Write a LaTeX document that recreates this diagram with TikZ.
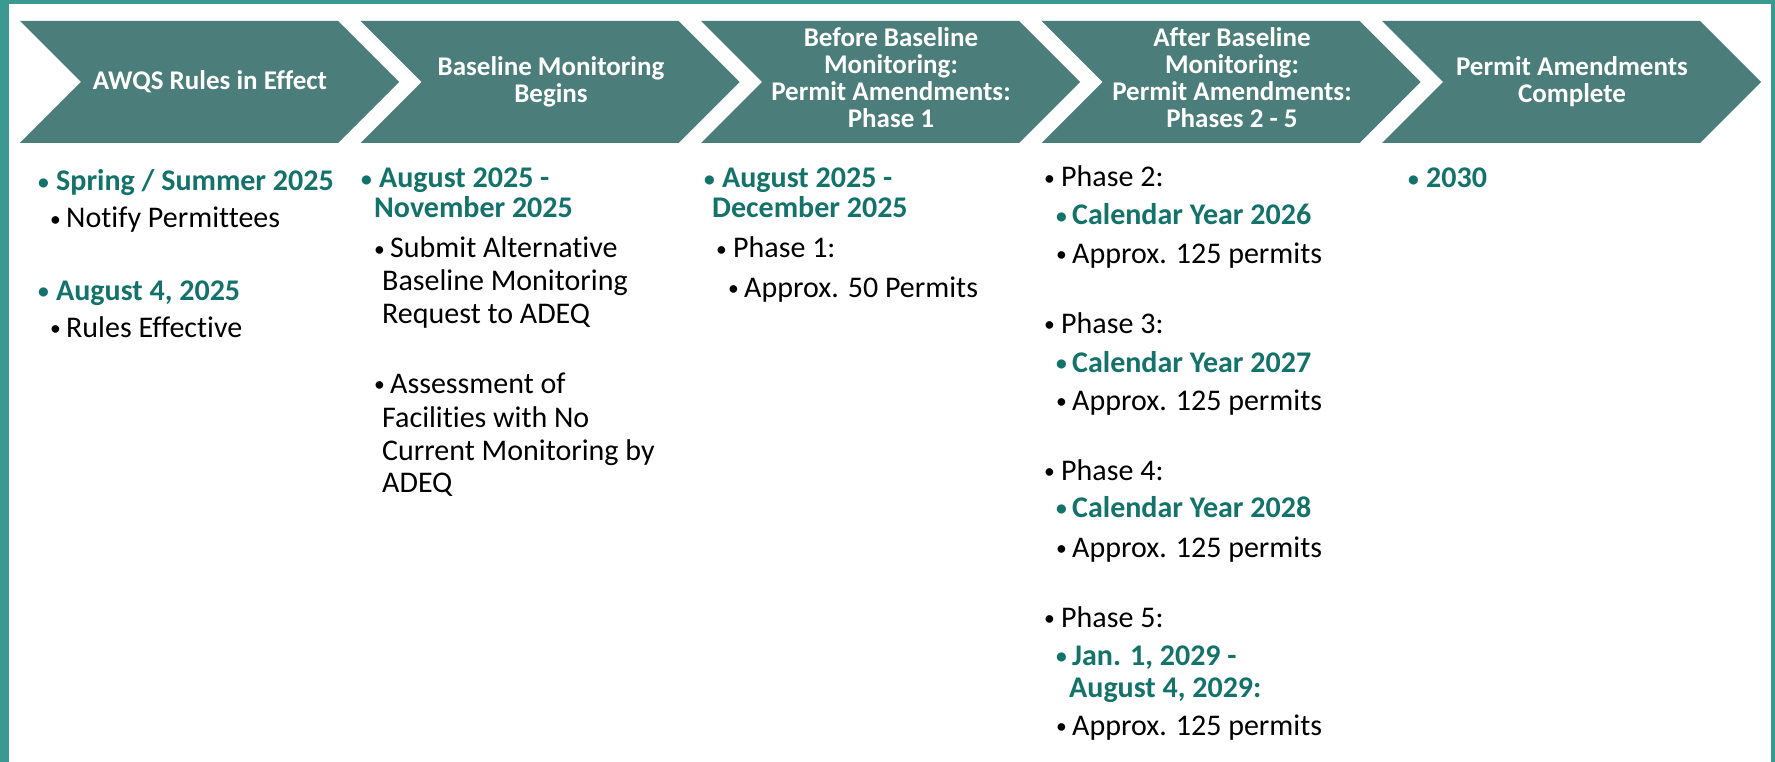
\documentclass[tikz,border=0pt]{standalone}
\usepackage{fontspec}
\setmainfont{Carlito}[Ligatures=NoCommon]
\definecolor{frameteal}{HTML}{3A9A91}
\definecolor{chevfill}{HTML}{4B7D7A}
\definecolor{dateteal}{HTML}{13726A}
\newcommand\mybul[1]{\makebox[#1pt][l]{\raisebox{0.06em}{\scalebox{0.72}{\textbullet}}}}
\tikzset{
  chev/.style={fill=chevfill},
  hdr/.style={text=white, font=\fontsize{27}{27}\selectfont\bfseries, align=center, inner sep=0pt},
  dt/.style={anchor=base west, text=dateteal, font=\fontsize{30}{33}\selectfont\bfseries, inner sep=0pt},
  tx/.style={anchor=base west, text=black, font=\fontsize{30}{33}\selectfont, inner sep=0pt}
}
\begin{document}
\begin{tikzpicture}[x=1pt,y=-1pt]
\useasboundingbox (0,0) rectangle (1775,762);
\fill[white] (0,0) rectangle (1775,762);
\fill[frameteal] (0,0) rectangle (1775,4);
\fill[frameteal] (0,0) rectangle (9,762);
\fill[frameteal] (1771,0) rectangle (1775,762);
% chevrons
\foreach \i in {0,...,4}{
  \pgfmathsetmacro\L{20+340.5*\i}
  \fill[chev] (\L,21) -- (\L+318,21) -- (\L+379,82) -- (\L+318,143) -- (\L,143) -- (\L+61,82) -- cycle;
}
% headers
\node[hdr] (h1) at (210,82) {AWQS Rules in Effect};
\node[hdr] (h2) at (551,82) {Baseline Monitoring\\Begins};
\node[hdr] (h3) at (891,78) {Before Baseline\\Monitoring:\\Permit Amendments:\\Phase 1};
\node[hdr] (h4) at (1232,78) {After Baseline\\Monitoring:\\Permit Amendments:\\Phases 2 - 5};
\node[hdr] (h5) at (1572,82) {Permit Amendments\\Complete};
% column 1
\node[dt] (c1a) at (38,191) {\mybul{18}Spring / Summer 2025};
\node[tx] (c1b) at (50,228) {\mybul{16}Notify Permittees};
\node[dt] (c1c) at (38,300) {\mybul{18}August 4, 2025};
\node[tx] (c1d) at (50,337) {\mybul{16}Rules Effective};
% column 2
\node[dt] (c2a) at (361,188) {\mybul{18}August 2025 -};
\node[dt] (c2b) at (374,218) {November 2025};
\node[tx] (c2c) at (374,258) {\mybul{16}Submit Alternative};
\node[tx] (c2d) at (382,290) {Baseline Monitoring};
\node[tx] (c2e) at (382,323) {Request to ADEQ};
\node[tx] (c2f) at (374,393) {\mybul{16}Assessment of};
\node[tx] (c2g) at (382,427) {Facilities with No};
\node[tx] (c2h) at (382,460) {Current Monitoring by};
\node[tx] (c2i) at (382,492) {ADEQ};
% column 3
\node[dt] (c3a) at (704,188) {\mybul{18}August 2025 -};
\node[dt] (c3b) at (712,218) {December 2025};
\node[tx] (c3c) at (716,258) {\mybul{17}Phase 1:};
\node[tx] (c3d) at (728,297) {\mybul{16}Approx. 50 Permits};
% column 4
\node[tx] (c4a) at (1044,187) {\mybul{17}Phase 2:};
\node[dt] (c4b) at (1056,225) {\mybul{16}Calendar Year 2026};
\node[tx] (c4c) at (1056,263) {\mybul{16}Approx. 125 permits};
\node[tx] (c4d) at (1044,333) {\mybul{17}Phase 3:};
\node[dt] (c4e) at (1056,372) {\mybul{16}Calendar Year 2027};
\node[tx] (c4f) at (1056,410) {\mybul{16}Approx. 125 permits};
\node[tx] (c4g) at (1044,480) {\mybul{17}Phase 4:};
\node[dt] (c4h) at (1056,517) {\mybul{16}Calendar Year 2028};
\node[tx] (c4i) at (1056,557) {\mybul{16}Approx. 125 permits};
\node[tx] (c4j) at (1044,627) {\mybul{17}Phase 5:};
\node[dt] (c4k) at (1056,665) {\mybul{16}Jan. 1, 2029 -};
\node[dt] (c4l) at (1069,697) {August 4, 2029:};
\node[tx] (c4m) at (1056,735) {\mybul{16}Approx. 125 permits};
% column 5
\node[dt] (c5a) at (1408,188) {\mybul{18}2030};
\end{tikzpicture}
\end{document}
